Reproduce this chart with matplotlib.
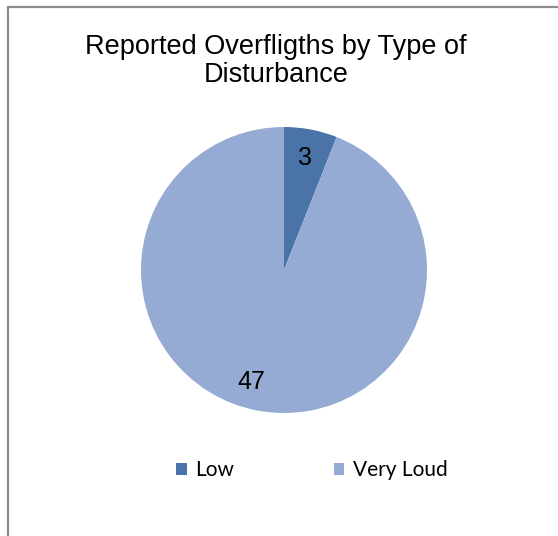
import matplotlib
matplotlib.use("Agg")
import matplotlib.pyplot as plt
from matplotlib.patches import Rectangle, Patch

categories = ["Low", "Very Loud"]
values = [3, 47]
colors = ["#4a73a8", "#95abd3"]
title = "Reported Overfligths by Type of\nDisturbance"

W, H = 558, 536
fig = plt.figure(figsize=(W/100, H/100), dpi=100)
fig.patch.set_facecolor("white")

# outer border (extends beyond right/bottom edge)
fig.patches.append(Rectangle((8/W, -0.05), 1.2, (H-7)/H + 0.05, transform=fig.transFigure,
                             fill=False, edgecolor="#8c8c8c", linewidth=1.6))

cx, cy, r = 284, 270, 143
ax = fig.add_axes([(cx-r)/W, (H-cy-r)/H, 2*r/W, 2*r/H])
wedges, texts, autotexts = ax.pie(values, colors=colors, startangle=90, counterclock=False,
                                  autopct=lambda p: f"{p*sum(values)/100:.0f}", pctdistance=0.8,
                                  wedgeprops=dict(linewidth=0),
                                  textprops=dict(fontsize=18, family="Liberation Sans", color="black"))
# nudge the large-slice label slightly left, as in the original layout
x47, y47 = autotexts[1].get_position()
autotexts[1].set_position((x47 - 0.08, y47))
ax.set_xlim(-1, 1)
ax.set_ylim(-1, 1)
ax.set_aspect("equal")

fig.text(0.495, 1-61/H, title, ha="center", va="center", fontsize=19.5,
         family="Liberation Sans", linespacing=1.05)

handles = [Patch(facecolor=c, edgecolor="none") for c in colors]
fig.legend(handles, categories, loc="center", bbox_to_anchor=(312/W, 1-470/H), ncol=2,
           frameon=False, prop=dict(family="Lato", size=15), handlelength=0.5, handleheight=0.5,
           handletextpad=0.4, columnspacing=4.8)

fig.savefig("out.png", dpi=100)
